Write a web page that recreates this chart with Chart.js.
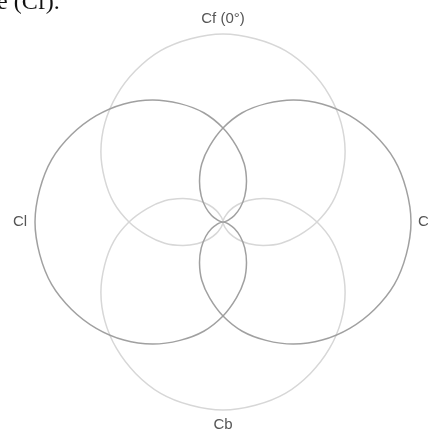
<!DOCTYPE html>
<html>
<head>
<meta charset="utf-8">
<style>
  html, body { margin: 0; padding: 0; background: #fff; overflow: hidden; }
  canvas { display: block; }
</style>
<script src="https://cdn.jsdelivr.net/npm/chart.js@4"></script>
</head>
<body>
<canvas id="polarChart" width="428" height="430"></canvas>
<script>
// directions every 10 degrees, clockwise from front (top)
const directions = [
  'Cf (0°)', '', '', '', '', '', '', '', '', 'Cr', '', '', '', '', '', '', '', '',
  'Cb', '', '', '', '', '', '', '', '', 'Cl', '', '', '', '', '', '', '', ''
];

const cfValues = [1.00, 0.99, 0.97, 0.93, 0.88, 0.82, 0.75, 0.67, 0.59, 0.50, 0.41, 0.33, 0.25, 0.18, 0.12, 0.07, 0.03, 0.01,
                  0.00, 0.01, 0.03, 0.07, 0.12, 0.18, 0.25, 0.33, 0.41, 0.50, 0.59, 0.67, 0.75, 0.82, 0.88, 0.93, 0.97, 0.99];
const crValues = [0.50, 0.59, 0.67, 0.75, 0.82, 0.88, 0.93, 0.97, 0.99, 1.00, 0.99, 0.97, 0.93, 0.88, 0.82, 0.75, 0.67, 0.59,
                  0.50, 0.41, 0.33, 0.25, 0.18, 0.12, 0.07, 0.03, 0.01, 0.00, 0.01, 0.03, 0.07, 0.12, 0.18, 0.25, 0.33, 0.41];
const cbValues = [0.00, 0.01, 0.03, 0.07, 0.12, 0.18, 0.25, 0.33, 0.41, 0.50, 0.59, 0.67, 0.75, 0.82, 0.88, 0.93, 0.97, 0.99,
                  1.00, 0.99, 0.97, 0.93, 0.88, 0.82, 0.75, 0.67, 0.59, 0.50, 0.41, 0.33, 0.25, 0.18, 0.12, 0.07, 0.03, 0.01];
const clValues = [0.50, 0.41, 0.33, 0.25, 0.18, 0.12, 0.07, 0.03, 0.01, 0.00, 0.01, 0.03, 0.07, 0.12, 0.18, 0.25, 0.33, 0.41,
                  0.50, 0.59, 0.67, 0.75, 0.82, 0.88, 0.93, 0.97, 0.99, 1.00, 0.99, 0.97, 0.93, 0.88, 0.82, 0.75, 0.67, 0.59];

const darkLine = 'rgba(155, 155, 155, 0.95)';
const lightLine = 'rgba(215, 215, 215, 1)';

// direction labels + the clipped caption line from the page above the figure
const labelPlugin = {
  id: 'dirLabels',
  afterDraw(chart) {
    const ctx = chart.ctx;
    const scale = chart.scales.r;
    ctx.save();
    ctx.fillStyle = '#555';
    ctx.font = '15px "Liberation Sans", Arial, sans-serif';
    ctx.textAlign = 'center';
    ctx.textBaseline = 'middle';
    directions.forEach((lbl, i) => {
      if (!lbl) return;
      const p = scale.getPointPosition(i, scale.drawingArea + 15);
      ctx.fillText(lbl, p.x, p.y);
    });
    ctx.fillStyle = '#111';
    ctx.font = '24px "Liberation Serif", "Times New Roman", serif';
    ctx.textAlign = 'left';
    ctx.textBaseline = 'alphabetic';
    ctx.fillText('e (Cf).', -3, 9);
    ctx.restore();
  }
};

new Chart(document.getElementById('polarChart'), {
  type: 'radar',
  data: {
    labels: directions,
    datasets: [
      { label: 'Cl', data: clValues, borderColor: darkLine },
      { label: 'Cr', data: crValues, borderColor: darkLine },
      { label: 'Cf', data: cfValues, borderColor: lightLine },
      { label: 'Cb', data: cbValues, borderColor: lightLine }
    ]
  },
  options: {
    responsive: false,
    animation: false,
    layout: { padding: { left: 35, top: 34, right: 17, bottom: 20 } },
    elements: {
      line: { borderWidth: 1.5, tension: 0.4, fill: false },
      point: { radius: 0, hoverRadius: 0 }
    },
    datasets: { radar: { clip: false } },
    plugins: {
      legend: { display: false },
      tooltip: { enabled: false }
    },
    scales: {
      r: {
        min: 0,
        max: 1,
        grid: { display: false },
        angleLines: { display: false },
        ticks: { display: false },
        pointLabels: { display: false }
      }
    }
  },
  plugins: [labelPlugin]
});
</script>
</body>
</html>
